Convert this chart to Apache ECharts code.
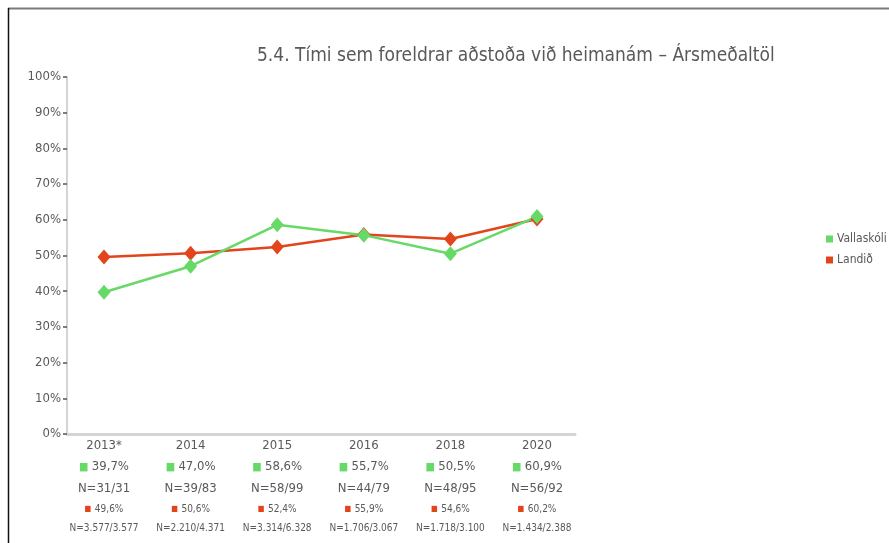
<!DOCTYPE html>
<html><head><meta charset="utf-8">
<script src="https://cdn.jsdelivr.net/npm/echarts@6/dist/echarts.min.js"></script>
<style>html,body{margin:0;padding:0;background:#fff}#c{width:889px;height:543px}</style>
</head><body><div id="c"></div>
<script>
const years = ['2013*', '2014', '2015', '2016', '2018', '2020'];
const vallaskoli = [39.7, 47.0, 58.6, 55.7, 50.5, 60.9];
const landid = [49.6, 50.6, 52.4, 55.9, 54.6, 60.2];
const nVallaskoli = ['N=31/31', 'N=39/83', 'N=58/99', 'N=44/79', 'N=48/95', 'N=56/92'];
const nLandid = ['N=3.577/3.577', 'N=2.210/4.371', 'N=3.314/6.328', 'N=1.706/3.067', 'N=1.718/3.100', 'N=1.434/2.388'];
const yTicks = [0, 10, 20, 30, 40, 50, 60, 70, 80, 90, 100];
const titleText = '5.4. Tími sem foreldrar aðstoða við heimanám – Ársmeðaltöl';

const GREEN = '#66d966';
const RED = '#e2441c';
const TXT = '#595959';
const FONT = "'DejaVu Sans Condensed', 'Liberation Sans Narrow', 'Roboto', sans-serif";
const fmt = v => v.toFixed(1).replace('.', ',') + '%';

const chart = echarts.init(document.getElementById('c'));
chart.setOption({
  backgroundColor: '#fff',
  animation: false,
  textStyle: { fontFamily: FONT },
  title: {
    text: titleText, left: 252, top: 42,
    textStyle: { fontFamily: FONT, fontSize: 19, fontWeight: 'normal', color: TXT }
  },
  legend: {
    data: ['Vallaskóli', 'Landið'], orient: 'vertical', left: 821, top: 228,
    icon: 'rect', itemWidth: 7, itemHeight: 7, itemGap: 9,
    textStyle: { fontFamily: FONT, fontSize: 12, color: TXT, padding: [0, 0, 0, -1] }
  },
  graphic: [
    { type: 'line', shape: { x1: 8, y1: 8.5, x2: 889, y2: 8.5 }, style: { stroke: '#7a7a7a', lineWidth: 2 } },
    { type: 'line', shape: { x1: 8.5, y1: 8, x2: 8.5, y2: 543 }, style: { stroke: '#111', lineWidth: 1.5 } }
  ],
  grid: [
    { left: 104, right: 352, top: 77, bottom: 109 },
    { left: 67, right: 314, top: 77, bottom: 109 }
  ],
  xAxis: [
    {
      type: 'category', gridIndex: 0, data: years, boundaryGap: false,
      axisLine: { show: false }, axisTick: { show: false },
      axisLabel: {
        interval: 0, margin: 3, color: TXT, fontFamily: FONT,
        formatter: (val, i) => '{y|' + val + '}\n{gs|■} {g|' + fmt(vallaskoli[i]) + '}\n{n|' + nVallaskoli[i] + '}\n{rs|■} {r|' + fmt(landid[i]) + '}\n{m|' + nLandid[i] + '}',
        rich: {
          y: { fontSize: 13, lineHeight: 18, color: TXT, fontFamily: FONT },
          gs: { fontSize: 11, lineHeight: 24, color: GREEN, fontFamily: FONT },
          g: { fontSize: 13, lineHeight: 24, color: TXT, fontFamily: FONT },
          n: { fontSize: 13, lineHeight: 20, color: TXT, fontFamily: FONT },
          rs: { fontSize: 8, lineHeight: 20, color: RED, fontFamily: FONT },
          r: { fontSize: 10, lineHeight: 20, color: TXT, fontFamily: FONT },
          m: { fontSize: 10, lineHeight: 18, color: TXT, fontFamily: FONT }
        }
      }
    },
    {
      type: 'value', gridIndex: 1, min: 0, max: 1,
      axisLine: { show: true, lineStyle: { color: '#d4d4d4', width: 3 } },
      axisTick: { show: false }, axisLabel: { show: false }, splitLine: { show: false }
    }
  ],
  yAxis: [
    { type: 'value', gridIndex: 0, min: 0, max: 100, show: false },
    {
      type: 'value', gridIndex: 1, min: yTicks[0], max: yTicks[yTicks.length - 1], interval: 10,
      axisLine: { show: true, lineStyle: { color: '#d4d4d4', width: 2 } },
      axisTick: { show: true, length: 4, lineStyle: { color: '#555', width: 1.5 } },
      axisLabel: { formatter: '{value}%', color: TXT, fontSize: 13, fontFamily: FONT, margin: 6 },
      splitLine: { show: false }
    }
  ],
  series: [
    {
      name: 'Landið', type: 'line', xAxisIndex: 0, yAxisIndex: 0, data: landid,
      symbol: 'diamond', symbolSize: [13, 15], color: RED,
      lineStyle: { width: 2.5, color: RED }, itemStyle: { color: RED }
    },
    {
      name: 'Vallaskóli', type: 'line', xAxisIndex: 0, yAxisIndex: 0, data: vallaskoli,
      symbol: 'diamond', symbolSize: [13, 15], color: GREEN,
      lineStyle: { width: 2.5, color: GREEN }, itemStyle: { color: GREEN }
    }
  ]
});
</script></body></html>
